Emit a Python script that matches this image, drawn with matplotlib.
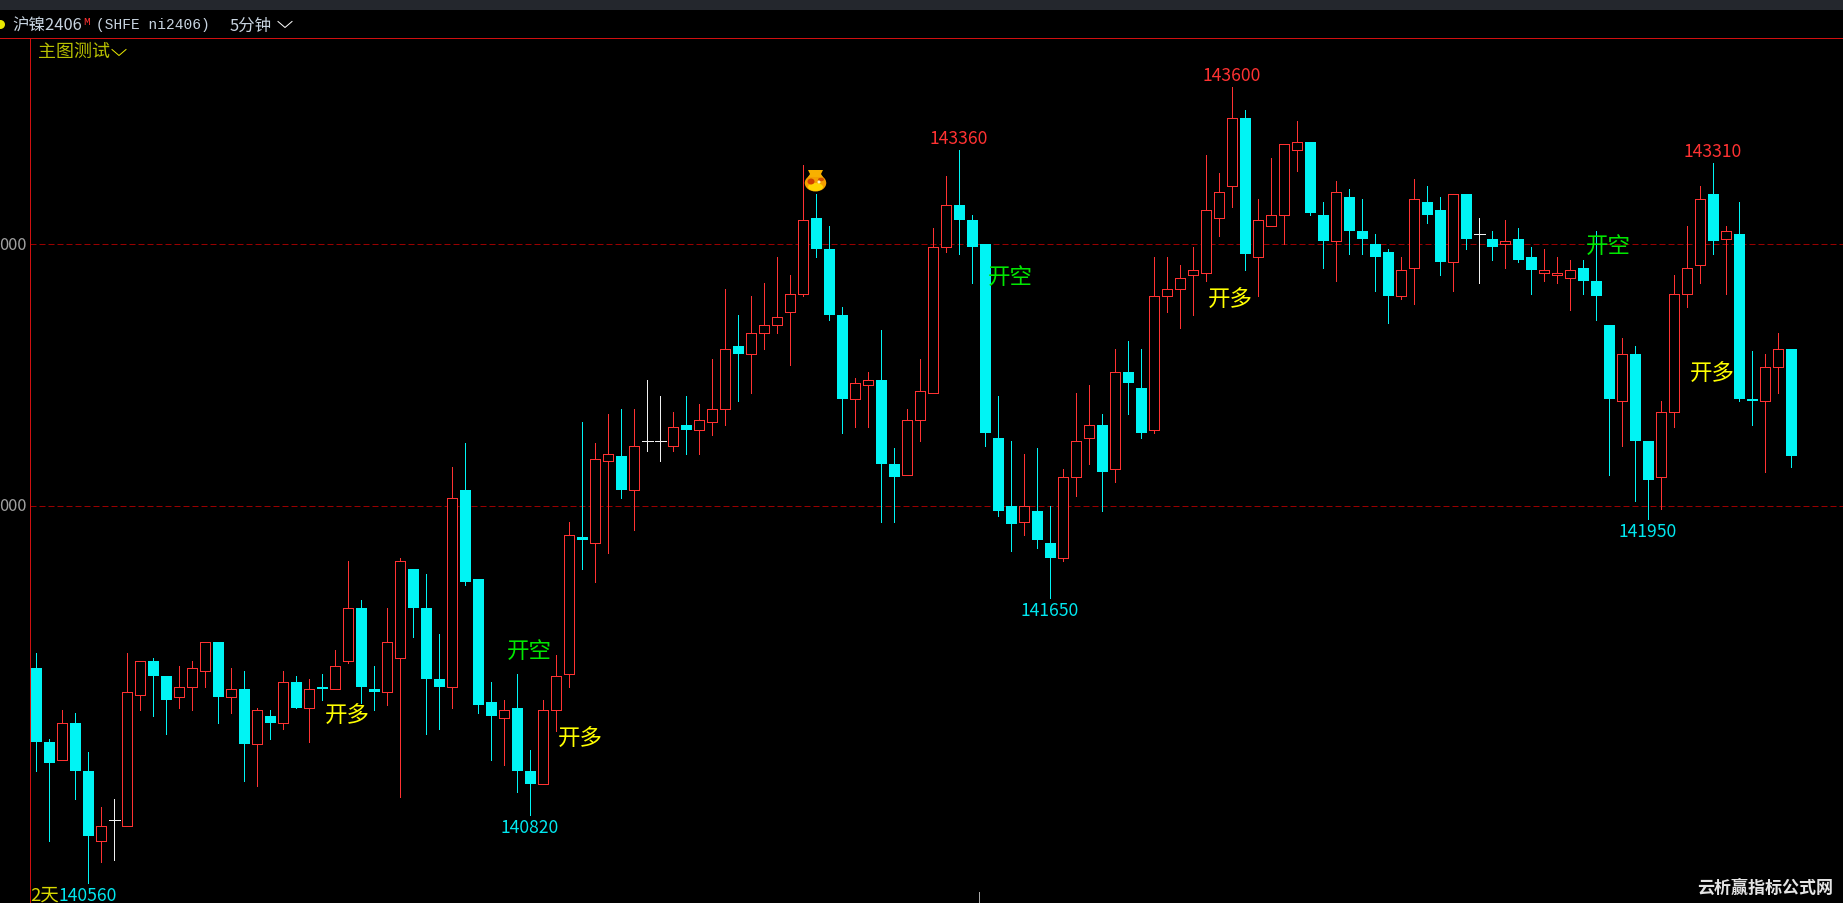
import matplotlib
matplotlib.use("Agg")
import matplotlib.pyplot as plt
from matplotlib.patches import Ellipse, Polygon, Rectangle

plt.rcParams['font.family'] = ['Noto Sans CJK SC', 'DejaVu Sans']

# ni2406 5 minute candles
highs = [141440, 141110, 141220, 141210, 141060, 140850, 140880, 141440, 141410, 141420,
         141350, 141390, 141410, 141480, 141480, 141380, 141370, 141230, 141220, 141370,
         141350, 141340, 141360, 141450, 141790, 141640, 141390, 141610, 141800, 141760,
         141740, 141510, 142150, 142240, 141720, 141330, 141260, 141360, 141070, 141260,
         141430, 141940, 142320, 142240, 142350, 142370, 142370, 142480, 142420, 142360,
         142420, 142390, 142560, 142830, 142730, 142800, 142850, 142950, 142880, 143300,
         143190, 143070, 142760, 142490, 142510, 142670, 142220, 142370, 142560, 143060,
         143260, 143360, 143110, 143000, 142420, 142250, 142200, 142220, 142000, 142140,
         142430, 142460, 142350, 142600, 142630, 142600, 142950, 142950, 142920, 142990,
         143340, 143270, 143600, 143510, 143170, 143330, 143380, 143470, 143390, 143160,
         143240, 143210, 143170, 143040, 142980, 142950, 143250, 143220, 143180, 143190,
         143190, 143100, 143050, 143090, 143060, 142990, 142980, 142950, 142940, 142940,
         143050, 142690, 142640, 142610, 142250, 142400, 142880, 143070, 143220, 143310,
         143070, 143160, 142590, 142580, 142660, 142600]
body_tops = [141380, 141100, 141170, 141170, 140990, 140780, 140800, 141290, 141410, 141410,
             141350, 141310, 141380, 141480, 141480, 141300, 141300, 141220, 141200, 141330,
             141330, 141300, 141310, 141390, 141610, 141610, 141300, 141480, 141790, 141760,
             141610, 141340, 142030, 142060, 141720, 141250, 141220, 141230, 140990, 141220,
             141350, 141890, 141880, 142180, 142200, 142190, 142230, 142250, 142250, 142300,
             142310, 142330, 142370, 142600, 142610, 142660, 142690, 142720, 142810, 143090,
             143100, 142980, 142730, 142470, 142480, 142480, 142160, 142330, 142440, 142990,
             143150, 143150, 143090, 143000, 142260, 142000, 142000, 141980, 141860, 142110,
             142250, 142310, 142310, 142510, 142510, 142450, 142800, 142830, 142870, 142900,
             143130, 143200, 143480, 143480, 143090, 143110, 143380, 143390, 143390, 143110,
             143200, 143180, 143050, 143000, 142970, 142900, 143170, 143160, 143130, 143190,
             143190, 143040, 143020, 143010, 143020, 142950, 142900, 142890, 142900, 142910,
             142860, 142690, 142580, 142580, 142250, 142360, 142810, 142910, 143170, 143190,
             143050, 143040, 142410, 142530, 142600, 142600]
body_bottoms = [141100, 141020, 141030, 140990, 140740, 140720, 140800, 140780, 141280, 141350,
                141260, 141270, 141310, 141370, 141270, 141270, 141090, 141090, 141170, 141170,
                141230, 141230, 141300, 141300, 141410, 141310, 141290, 141290, 141420, 141610,
                141340, 141310, 141310, 141710, 141240, 141200, 141190, 140990, 140940, 140940,
                141220, 141360, 141870, 141860, 142170, 142060, 142060, 142250, 142250, 142230,
                142290, 142290, 142320, 142370, 142580, 142580, 142660, 142690, 142740, 142810,
                142980, 142730, 142410, 142410, 142460, 142160, 142110, 142120, 142330, 142430,
                142990, 143090, 142990, 142280, 141980, 141930, 141940, 141870, 141800, 141800,
                142110, 142260, 142130, 142140, 142470, 142280, 142290, 142800, 142830, 142880,
                142890, 143100, 143220, 142960, 142950, 143070, 143110, 143360, 143120, 143010,
                143010, 143050, 143020, 142950, 142800, 142800, 142910, 143110, 142930, 142930,
                143020, 143040, 142990, 143000, 142940, 142900, 142890, 142880, 142870, 142860,
                142800, 142410, 142400, 142250, 142100, 142110, 142360, 142810, 142920, 143010,
                143020, 142410, 142400, 142400, 142530, 142190]
lows = [140990, 140720, 141030, 140880, 140560, 140640, 140650, 140780, 141220, 141200,
        141130, 141230, 141220, 141310, 141170, 141210, 140950, 140930, 141110, 141150,
        141230, 141100, 141260, 141300, 141400, 141250, 141220, 141240, 140890, 141500,
        141130, 141150, 141230, 141700, 141210, 141030, 141010, 140910, 140820, 140940,
        141140, 141310, 141760, 141710, 141820, 142030, 141910, 142210, 142170, 142210,
        142200, 142200, 142270, 142310, 142400, 142430, 142600, 142660, 142540, 142800,
        142950, 142710, 142280, 142300, 142300, 141940, 141940, 142120, 142250, 142430,
        142970, 142960, 142850, 142230, 141960, 141830, 141890, 141840, 141650, 141790,
        142040, 142160, 141980, 142090, 142350, 142260, 142280, 142740, 142680, 142730,
        142860, 143030, 143140, 142900, 142800, 143070, 143000, 143280, 143110, 142910,
        142860, 142960, 142960, 142820, 142700, 142790, 142770, 143080, 142880, 142820,
        142980, 142850, 142940, 142910, 142930, 142810, 142860, 142850, 142750, 142810,
        142710, 142120, 142230, 142020, 141950, 141990, 142300, 142760, 142850, 142960,
        142810, 142400, 142310, 142130, 142430, 142150]
# u = closed up (red, hollow), d = closed down (cyan, solid)
directions = ("ddudduuuud" "duuudududu" "duduudduud" "dduddduddu"
              "uuduuduuuu" "duuuduuuuu" "ddduudduuu" "uddddduddu"
              "uududduuuu" "uuuduuuudd" "udddduuddu" "dududduuud"
              "ddudduuuud" "udduud")

grid_prices = [143000, 142000]
grid_labels = ["000", "000"]

high_marks = [71, 92, 129]
low_marks = [4, 38, 78, 124]

# signal text: candle position, price, text, colour
signals = [(23.9, 141203, "开多", "#ffff00"),
           (37.9, 141449, "开空", "#00e800"),
           (41.85, 141116, "开多", "#ffff00"),
           (74.9, 142876, "开空", "#00e800"),
           (91.85, 142794, "开多", "#ffff00"),
           (120.9, 142995, "开空", "#00e800"),
           (128.9, 142508, "开多", "#ffff00")]

RED = "#ff3232"
CYAN = "#00f4f4"
W, H = 1843, 904
PX = 0.72  # one pixel in points at dpi 100
SPACING = 13.0
PX_PER_PRICE = 0.262
X0 = 36.1
Y_142000 = 507.0

fig = plt.figure(figsize=(W / 100, H / 100), dpi=100, facecolor="black")

ax = fig.add_axes([0, 0, 1, 1], facecolor="black")
ax.set_xlim(-X0 / SPACING, (W - X0) / SPACING)
ax.set_ylim(142000 - (H - Y_142000) / PX_PER_PRICE, 142000 + Y_142000 / PX_PER_PRICE)
ax.axis("off")

for p in grid_prices:
    ax.axhline(p, color="#980000", lw=PX, linestyle=(0, (6, 3)), zorder=1, xmin=30 / W)

for i in range(len(highs)):
    top, bottom = body_tops[i], body_bottoms[i]
    if top == bottom:
        color = "#f0f0f0"
    elif directions[i] == "u":
        color = RED
    else:
        color = CYAN
    ax.vlines(i, lows[i], highs[i], color=color, lw=PX, zorder=2, antialiased=False)
    if top == bottom:
        ax.hlines(top, i - 5.5 / SPACING, i + 5.5 / SPACING, color=color, lw=PX,
                  zorder=3, antialiased=False)
    elif directions[i] == "u":
        ax.bar(i, top - bottom, bottom=bottom, width=10 / SPACING, facecolor="black",
               edgecolor=color, linewidth=PX, zorder=3, antialiased=False)
    else:
        ax.bar(i, top - bottom, bottom=bottom, width=11 / SPACING, facecolor=color,
               edgecolor="none", linewidth=0, zorder=3, antialiased=False)

for i in high_marks:
    ax.annotate(str(highs[i]), (i, highs[i]), xytext=(0, 11.5), textcoords="offset pixels",
                color="#ff3232", fontsize=17.5 * PX, ha="center", va="center", zorder=5)
for i in low_marks:
    ax.annotate(str(lows[i]), (i, lows[i]), xytext=(0, -12), textcoords="offset pixels",
                color="#00e8f0", fontsize=17.5 * PX, ha="center", va="center", zorder=5)

for pos, price, label, col in signals:
    ax.text(pos, price, label, color=col, fontsize=22.5 * PX, ha="center", va="center", zorder=5)

# window furniture, placed in screen pixels
ov = fig.add_axes([0, 0, 1, 1], facecolor="none")
ov.set_xlim(0, W)
ov.set_ylim(H, 0)
ov.axis("off")

ov.add_patch(Rectangle((0, 0), W, 11, facecolor="#24272d", edgecolor="none"))
ov.plot([0, W], [38.6, 38.6], color="#d01010", lw=PX)
ov.plot([30, 30], [38.6, H], color="#d01010", lw=PX)
ov.add_patch(Ellipse((0.5, 25.5), 9, 9, facecolor="#e8e800", edgecolor="none"))

ov.text(12, 26, "沪镍2406", color="#c8d4e0", fontsize=16.5 * PX, va="center", ha="left")
ov.text(83, 22, "M", color="#ff3232", fontsize=11 * PX, va="center", ha="left",
        family=["Liberation Mono", "DejaVu Sans"])
ov.text(96, 25.5, "(SHFE ni2406)", color="#c8d4e0", fontsize=14.5 * PX, va="center", ha="left",
        family=["Liberation Mono", "DejaVu Sans"])
ov.text(230, 26, "5分钟", color="#c8d4e0", fontsize=16.5 * PX, va="center", ha="left")
ov.plot([278, 285, 292], [22.5, 28.5, 22.5], color="white", lw=PX)
ov.text(38, 52, "主图测试", color="#b8c000", fontsize=18 * PX, va="center", ha="left")
ov.plot([112, 119, 126], [50.5, 56.5, 50.5], color="#e8e800", lw=PX)

for p, label in zip(grid_prices, grid_labels):
    y = Y_142000 - (p - 142000) * PX_PER_PRICE
    ov.text(26, y, label, color="#a0a0a0", fontsize=16.5 * PX, va="center", ha="right")

ov.text(30, 896, "2天", color="#d8d800", fontsize=18.5 * PX, va="center", ha="left")
ov.text(1697, 888, "云析赢指标公式网", color="#e4e4e4", fontsize=17 * PX, va="center",
        ha="left", fontweight="bold")
ov.plot([979, 979], [893, H], color="#aaaaaa", lw=PX)

# gold pot sign above the top candle
ov.add_patch(Ellipse((815.5, 184), 21.5, 17, facecolor="#f4a000", edgecolor="none", zorder=6))
ov.add_patch(Ellipse((815.5, 188), 15, 8, facecolor="#ffd400", edgecolor="none", zorder=6))
ov.add_patch(Polygon([(808, 171), (823, 171), (821, 175), (823, 178), (808, 178), (810, 175)],
                     facecolor="#f8b000", edgecolor="none", zorder=6))
ov.add_patch(Ellipse((811, 182.5), 7, 6, facecolor="#d04000", edgecolor="none", zorder=7))
ov.add_patch(Ellipse((821, 180.5), 6, 3.5, facecolor="#d05000", edgecolor="none", zorder=7))
ov.add_patch(Ellipse((819, 183), 3, 3, facecolor="#fff4c0", edgecolor="none", zorder=8))

fig.savefig("out.png", dpi=100, facecolor="black")
